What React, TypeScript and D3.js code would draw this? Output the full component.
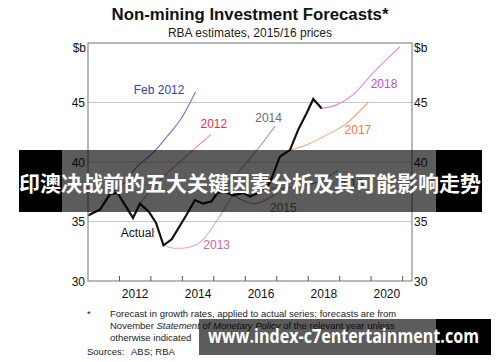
import * as d3 from 'd3';

// Non-mining investment, $b (2015/16 prices)
const actualYears = [2011.0, 2011.38, 2011.7, 2011.94, 2012.43, 2012.65, 2012.94, 2013.16, 2013.4, 2013.66, 2014.12, 2014.4, 2014.66, 2014.93, 2015.1, 2015.35, 2015.61, 2015.94, 2016.15, 2016.4, 2016.68, 2016.84, 2017.1, 2017.42, 2017.68, 2017.95, 2018.16, 2018.43];
const actualValues = [35.5, 36.0, 37.3, 37.4, 35.3, 36.5, 35.8, 34.9, 33.0, 33.5, 35.5, 36.8, 36.5, 36.7, 37.4, 37.5, 37.2, 37.4, 37.1, 37.4, 37.8, 38.65, 40.45, 41.0, 42.7, 44.1, 45.3, 44.5];

const feb2012Years = [2011.7, 2012.2, 2012.55, 2013.0, 2013.5, 2014.0, 2014.42];
const feb2012Values = [37.3, 38.4, 39.6, 40.6, 42.1, 43.8, 45.9];
const f2012Years = [2012.65, 2013.3, 2014.0, 2014.9];
const f2012Values = [36.5, 38.5, 40.2, 42.3];
const f2013Years = [2013.4, 2013.75, 2014.15, 2014.65, 2015.05, 2015.35, 2015.7];
const f2013Values = [33.0, 32.75, 32.8, 33.45, 34.9, 36.1, 37.6];
const f2014Years = [2014.93, 2015.4, 2015.83, 2016.4, 2016.94];
const f2014Values = [36.7, 38.0, 39.3, 41.1, 43.0];
const f2015Years = [2015.61, 2015.95, 2016.3, 2016.65, 2017.0];
const f2015Values = [37.2, 36.75, 36.5, 36.8, 37.4];
const f2016Years = [2016.68, 2017.2, 2017.8, 2018.3, 2018.95];
const f2016Values = [37.8, 37.8, 38.0, 38.3, 39.3];
const f2017Years = [2017.42, 2018.0, 2018.48, 2019.22, 2019.91];
const f2017Values = [41.0, 41.5, 42.13, 43.25, 45.0];
const f2018Years = [2018.43, 2018.9, 2019.4, 2020.05, 2020.92];
const f2018Values = [44.5, 44.8, 45.6, 47.45, 49.7];

const yearTicks = [2012, 2013, 2014, 2015, 2016, 2017, 2018, 2019, 2020, 2021];
const yearLabels = [2012, 2014, 2016, 2018, 2020];
const valueTicks = [30, 35, 40, 45];
const gridValues = [35, 40, 45];

const forecasts = [
  { name: 'Feb 2012', years: feb2012Years, values: feb2012Values, line: '#6d70c0', text: '#3a44a4', lx: 2013.26, ly: 45.71 },
  { name: '2012', years: f2012Years, values: f2012Values, line: '#ee8a94', text: '#e2323f', lx: 2015.0, ly: 42.86 },
  { name: '2013', years: f2013Years, values: f2013Values, line: '#e6a2c6', text: '#d8629f', lx: 2015.09, ly: 32.69 },
  { name: '2014', years: f2014Years, values: f2014Values, line: '#a6a6a6', text: '#6c6c6c', lx: 2016.74, ly: 43.36 },
  { name: '2015', years: f2015Years, values: f2015Values, line: '#b09a60', text: '#8a7035', lx: 2017.21, ly: 35.8 },
  { name: '2016', years: f2016Years, values: f2016Values, line: '#5aa8c8', text: '#2f8db5', lx: 2019.33, ly: 37.8 },
  { name: '2017', years: f2017Years, values: f2017Values, line: '#f6a87a', text: '#f07a3a', lx: 2019.58, ly: 42.35 },
  { name: '2018', years: f2018Years, values: f2018Values, line: '#d98ad8', text: '#c24fc0', lx: 2020.41, ly: 46.2 },
];

const W = 500;
const H = 362;
const plot = { left: 88, right: 412, top: 43, bottom: 281 };
const font = 'Liberation Sans, Arial, sans-serif';

export default function App() {
  const x = d3.scaleLinear().domain([2011, 2021.3]).range([plot.left, plot.right]);
  const y = d3.scaleLinear().domain([30, 50]).range([plot.bottom, plot.top]);

  const smooth = d3.line<[number, number]>().x(d => x(d[0])).y(d => y(d[1])).curve(d3.curveMonotoneX);
  const straight = d3.line<[number, number]>().x(d => x(d[0])).y(d => y(d[1]));
  const zip = (a: number[], b: number[]) => a.map((v, i) => [v, b[i]] as [number, number]);

  return (
    <div style={{ position: 'absolute', left: 0, top: 0 }}>
      <svg width={W} height={H} style={{ display: 'block', background: '#fff' }}>
        <text x={250} y={20} textAnchor="middle" fontFamily={font} fontWeight="bold" fontSize={16.8} fill="#111">
          Non-mining Investment Forecasts*
        </text>
        <text x={250} y={37} textAnchor="middle" fontFamily={font} fontSize={12} fill="#222">
          RBA estimates, 2015/16 prices
        </text>

        {/* grid */}
        {gridValues.map(v => (
          <line key={v} x1={plot.left} x2={plot.right} y1={y(v)} y2={y(v)} stroke="#c8c8c8" strokeWidth={1} />
        ))}

        {/* forecasts */}
        {forecasts.map(f => (
          <path key={f.name} d={smooth(zip(f.years, f.values)) || ''} fill="none" stroke={f.line} strokeWidth={1.1} />
        ))}
        <path d={straight(zip(actualYears, actualValues)) || ''} fill="none" stroke="#111" strokeWidth={2.2} strokeLinejoin="miter" />

        {forecasts.map(f => (
          <text key={f.name} x={x(f.lx)} y={y(f.ly)} textAnchor="middle" fontFamily={font} fontSize={12} fill={f.text}>
            {f.name}
          </text>
        ))}
        <text x={x(2012.57)} y={y(33.7)} textAnchor="middle" fontFamily={font} fontSize={12} fill="#111">Actual</text>

        {/* frame */}
        <rect x={plot.left} y={plot.top} width={plot.right - plot.left} height={plot.bottom - plot.top} fill="none" stroke="#8a8a8a" strokeWidth={1.2} />
        {yearTicks.map(t => (
          <line key={t} x1={x(t)} x2={x(t)} y1={plot.bottom} y2={plot.bottom - 5} stroke="#555" strokeWidth={1} />
        ))}
        {yearLabels.map(t => (
          <text key={t} x={x(t + 0.5)} y={298} textAnchor="middle" fontFamily={font} fontSize={12} fill="#111">{t}</text>
        ))}
        {valueTicks.map(v => (
          <g key={v}>
            <text x={85} y={y(v) + 4.5} textAnchor="end" fontFamily={font} fontSize={12} fill="#111">{v}</text>
            <text x={414} y={y(v) + 4.5} textAnchor="start" fontFamily={font} fontSize={12} fill="#111">{v}</text>
          </g>
        ))}
        <text x={86} y={52} textAnchor="end" fontFamily={font} fontSize={12} fill="#111">$b</text>
        <text x={414} y={52} textAnchor="start" fontFamily={font} fontSize={12} fill="#111">$b</text>

        {/* footnotes */}
        <g fontFamily={font} fontSize={9.5} fill="#222">
          <text x={87} y={317}>*</text>
          <text x={110} y={317}>Forecast in growth rates, applied to actual series; forecasts are from</text>
          <text x={110} y={329}>
            November <tspan fontStyle="italic">Statement of Monetary Policy</tspan> of the relevant year unless
          </text>
          <text x={110} y={340.5}>otherwise indicated</text>
          <text x={87} y={355}>Sources:</text>
          <text x={131} y={355}>ABS; RBA</text>
        </g>

        {/* overlay banner */}
        <rect x={19} y={150} width={43} height={62} fill="#000" />
        <rect x={62} y={150} width={374} height={62} fill="#000" fillOpacity={0.64} />
        <rect x={436} y={150} width={46} height={62} fill="#000" />
        <text x={250} y={191} textAnchor="middle" fontFamily="Noto Sans CJK SC" fontWeight="bold" fontSize={21} fill="#fff">
          印澳决战前的五大关键因素分析及其可能影响走势
        </text>

        {/* watermark */}
        <rect x={199} y={319} width={237} height={36} fill="#000" fillOpacity={0.64} />
        <rect x={436} y={319} width={55} height={36} fill="#000" />
        <text x={208} y={343} fontFamily="Open Sans, DejaVu Sans, sans-serif" fontWeight="bold" fontSize={19} fill="#fff" textLength={271} lengthAdjust="spacingAndGlyphs">
          www.index-c7entertainment.com
        </text>
      </svg>
    </div>
  );
}
